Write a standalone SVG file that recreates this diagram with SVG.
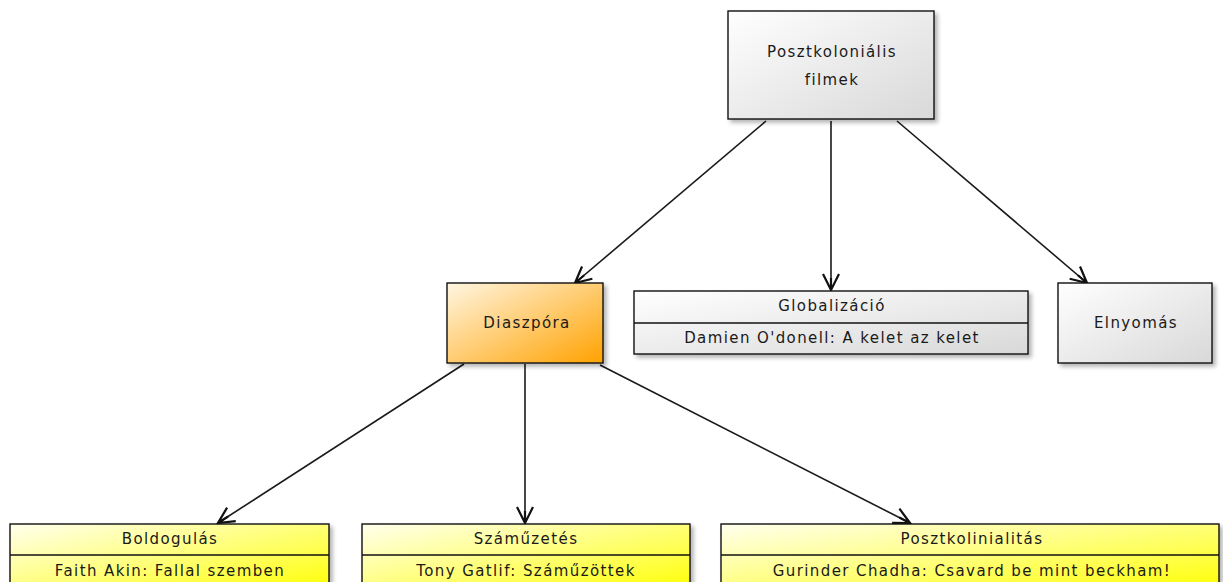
<svg xmlns="http://www.w3.org/2000/svg" width="1223" height="582" viewBox="0 0 1223 582">
<defs>
<linearGradient id="gGrey" x1="0" y1="0" x2="1" y2="1"><stop offset="0" stop-color="#ffffff"/><stop offset="1" stop-color="#d8d8d8"/></linearGradient>
<linearGradient id="gOrange" x1="0" y1="0" x2="1" y2="1"><stop offset="0" stop-color="#fff6e2"/><stop offset="1" stop-color="#ffa200"/></linearGradient>
<linearGradient id="gYellow" x1="0" y1="0" x2="1" y2="1"><stop offset="0" stop-color="#ffffee"/><stop offset="1" stop-color="#ffff00"/></linearGradient>
<filter id="sh" x="-10%" y="-10%" width="130%" height="130%"><feGaussianBlur in="SourceAlpha" stdDeviation="2"/><feOffset dx="3" dy="3"/><feComponentTransfer><feFuncA type="linear" slope="0.3"/></feComponentTransfer><feMerge><feMergeNode/><feMergeNode in="SourceGraphic"/></feMerge></filter>
<marker id="arr" viewBox="0 0 20 20" refX="18" refY="10" markerWidth="20" markerHeight="20" markerUnits="userSpaceOnUse" orient="auto"><path d="M2,2 L18,10 L2,18 M18,10 L6,10" fill="none" stroke="#111" stroke-width="2.2"/></marker>
</defs>
<style>
.box{stroke:#111;stroke-width:1.4;filter:url(#sh)}
.div{stroke:#111;stroke-width:1.4}
text{font-family:"DejaVu Sans",sans-serif;font-size:15px;fill:#1a1a1a;text-anchor:middle;letter-spacing:1.4px}
.conn line{stroke:#1a1a1a;stroke-width:1.6;marker-end:url(#arr)}
</style>
<g class="conn" id="connectors">
<line x1="766" y1="121" x2="575" y2="283"/>
<line x1="831" y1="121" x2="831" y2="290"/>
<line x1="897" y1="121" x2="1087" y2="283"/>
<line x1="464" y1="364" x2="218" y2="523"/>
<line x1="525" y1="364" x2="525" y2="523"/>
<line x1="600" y1="365" x2="910" y2="523"/>
</g>
<g id="posztkolonialis-filmek">
<rect class="box" x="728" y="11" width="206" height="108" fill="url(#gGrey)"/>
<text x="832" y="57">Posztkoloniális</text>
<text x="832" y="85">filmek</text>
</g>
<g id="diaszpora">
<rect class="box" x="447" y="283" width="156" height="80" fill="url(#gOrange)"/>
<text x="527" y="328">Diaszpóra</text>
</g>
<g id="globalizacio">
<rect class="box" x="634" y="291" width="394" height="63" fill="url(#gGrey)"/>
<line class="div" x1="634" y1="323" x2="1028" y2="323"/>
<text x="832" y="311">Globalizáció</text>
<text x="832" y="343">Damien O'donell: A kelet az kelet</text>
</g>
<g id="elnyomas">
<rect class="box" x="1058" y="283" width="154" height="80" fill="url(#gGrey)"/>
<text x="1136" y="328">Elnyomás</text>
</g>
<g id="boldogulas">
<rect class="box" x="10" y="524" width="319" height="70" fill="url(#gYellow)"/>
<line class="div" x1="10" y1="555" x2="329" y2="555"/>
<text x="170" y="544">Boldogulás</text>
<text x="170" y="576">Faith Akin: Fallal szemben</text>
</g>
<g id="szamuzetes">
<rect class="box" x="362" y="524" width="328" height="70" fill="url(#gYellow)"/>
<line class="div" x1="362" y1="555" x2="690" y2="555"/>
<text x="526" y="544">Száműzetés</text>
<text x="526" y="576">Tony Gatlif: Száműzöttek</text>
</g>
<g id="posztkolinialitas">
<rect class="box" x="721" y="524" width="498" height="70" fill="url(#gYellow)"/>
<line class="div" x1="721" y1="555" x2="1219" y2="555"/>
<text x="972" y="544">Posztkolinialitás</text>
<text x="972" y="576">Gurinder Chadha: Csavard be mint beckham!</text>
</g>
</svg>
